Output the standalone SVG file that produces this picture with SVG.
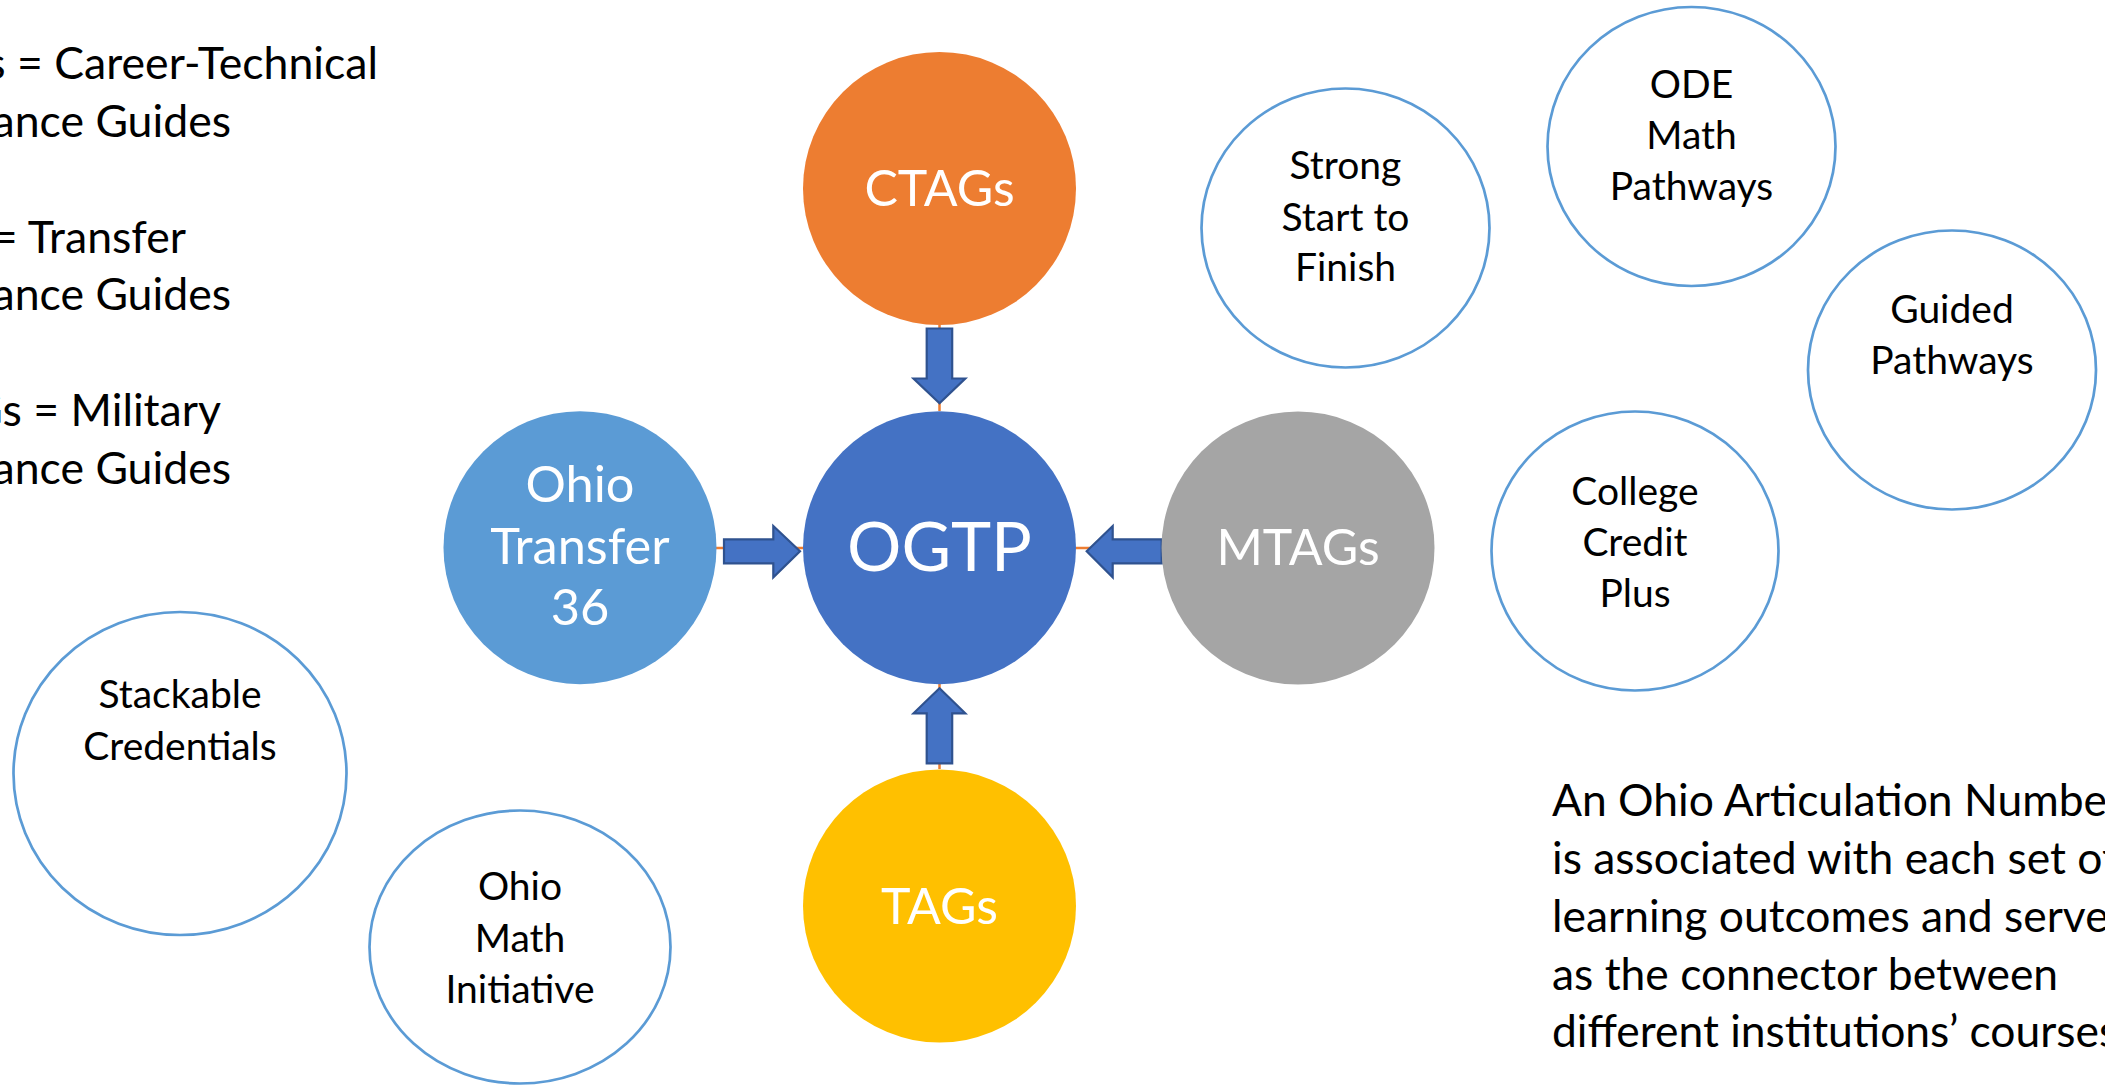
<svg xmlns="http://www.w3.org/2000/svg" width="2105" height="1085" viewBox="0 0 2105 1085">
<style>
text{font-family:Lato,"Open Sans","Liberation Sans",sans-serif}
.plain{font-size:44.6px;fill:#000}
.note{font-size:44.4px;fill:#000}
.lbl{font-size:39px;fill:#000;text-anchor:middle}
.big{font-size:50px;fill:#fff;text-anchor:middle}
.ring{fill:#fff;stroke:#5B9BD5;stroke-width:2.7}
.arrow{fill:#4472C4;stroke:#2F528F;stroke-width:2.2;stroke-linejoin:miter}
.link{stroke:#ED7D31;stroke-width:2.5;fill:none}
</style>
<rect width="2105" height="1085" fill="#fff"/>

<g id="legend">
<text class="plain" x="378" y="79" text-anchor="end">s = Career-Technical</text>
<text class="plain" x="231" y="137" text-anchor="end">ance Guides</text>
<text class="plain" x="186" y="253" text-anchor="end">= Transfer</text>
<text class="plain" x="231" y="310" text-anchor="end">ance Guides</text>
<text class="plain" x="221" y="426" text-anchor="end">Gs = Military</text>
<text class="plain" x="231" y="484" text-anchor="end">ance Guides</text>
</g>

<g id="connectors">
<line class="link" x1="939.5" y1="325" x2="939.5" y2="411"/>
<line class="link" x1="939.5" y1="684" x2="939.5" y2="769"/>
<line class="link" x1="716" y1="548" x2="803" y2="548"/>
<line class="link" x1="1076" y1="548" x2="1162" y2="548"/>
<path class="arrow" d="M926.7,328.5 H952.2 V378.5 H965.3 L939.5,403.3 L913.5,378.5 H926.7 Z"/>
<path class="arrow" d="M926.7,763.3 H952.2 V713.3 H965.3 L939.5,688.3 L913.5,713.3 H926.7 Z"/>
<path class="arrow" d="M724,539.3 V563.3 H773.3 V577.3 L800,551.3 L773.3,526 V539.3 Z"/>
<path class="arrow" d="M1161.7,539.3 V563.3 H1112.7 V577.3 L1086.7,551.3 L1112.7,526 V539.3 Z"/>
</g>

<g id="ctags">
<circle cx="939.5" cy="188.5" r="136.5" fill="#ED7D31"/>
<text class="big" x="939.5" y="205.5">CTAGs</text>
</g>
<g id="ogtp">
<circle cx="939.5" cy="547.7" r="136.5" fill="#4472C4"/>
<text class="big" x="939.5" y="571" style="font-size:68px">OGTP</text>
</g>
<g id="tags">
<circle cx="939.5" cy="906" r="136.5" fill="#FFC000"/>
<text class="big" x="939.5" y="923.5">TAGs</text>
</g>
<g id="mtags">
<circle cx="1298" cy="548" r="136.5" fill="#A5A5A5"/>
<text class="big" x="1298" y="565">MTAGs</text>
</g>
<g id="ot36">
<circle cx="580" cy="547.7" r="136.5" fill="#5B9BD5"/>
<text class="big" style="font-size:50.5px" x="580" y="502">Ohio</text>
<text class="big" style="font-size:50.5px" x="580" y="563.5">Transfer</text>
<text class="big" style="font-size:50.5px" x="580" y="625">36</text>
</g>

<g id="strong-start">
<ellipse class="ring" cx="1345.5" cy="228" rx="144" ry="139.5"/>
<text class="lbl" x="1345.5" y="179">Strong</text>
<text class="lbl" x="1345.5" y="230.5">Start to</text>
<text class="lbl" x="1345.5" y="281">Finish</text>
</g>
<g id="ode-math">
<ellipse class="ring" cx="1691.5" cy="146.5" rx="144" ry="139.5"/>
<text class="lbl" x="1691.5" y="98">ODE</text>
<text class="lbl" x="1691.5" y="149">Math</text>
<text class="lbl" x="1691.5" y="199.5">Pathways</text>
</g>
<g id="guided">
<ellipse class="ring" cx="1952" cy="370" rx="144" ry="139.5"/>
<text class="lbl" x="1952" y="322.5">Guided</text>
<text class="lbl" x="1952" y="373.5">Pathways</text>
</g>
<g id="ccp">
<ellipse class="ring" cx="1635" cy="551" rx="143.5" ry="139.5"/>
<text class="lbl" x="1635" y="504.5">College</text>
<text class="lbl" x="1635" y="556">Credit</text>
<text class="lbl" x="1635" y="606.5">Plus</text>
</g>
<g id="stackable">
<ellipse class="ring" cx="180" cy="773.5" rx="166.5" ry="161.5"/>
<text class="lbl" x="180" y="708">Stackable</text>
<text class="lbl" x="180" y="760">Credentials</text>
</g>
<g id="ohio-math">
<ellipse class="ring" cx="520" cy="947" rx="150.5" ry="136.5"/>
<text class="lbl" x="520" y="900">Ohio</text>
<text class="lbl" x="520" y="951.5">Math</text>
<text class="lbl" x="520" y="1003">Initiative</text>
</g>

<g id="note">
<text class="note" x="1552" y="816">An Ohio Articulation Numbe</text>
<text class="note" x="1552" y="874">is associated with each set of</text>
<text class="note" x="1552" y="932">learning outcomes and serves</text>
<text class="note" x="1552" y="990">as the connector between</text>
<text class="note" x="1552" y="1047">different institutions’ courses</text>
</g>
</svg>
